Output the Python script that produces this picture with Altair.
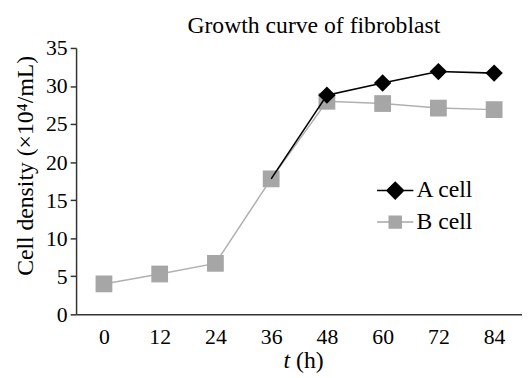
import altair as alt
import pandas as pd

hours = [0, 12, 24, 36, 48, 60, 72, 84]
a_cell = [None, None, None, 17.8, 28.8, 30.4, 31.9, 31.7]
b_cell = [4.0, 5.3, 6.7, 17.8, 28.0, 27.7, 27.1, 26.9]
series_names = ["A cell", "B cell"]
series_colors = ["#000000", "#a6a6a6"]
y_ticks = [0, 5, 10, 15, 20, 25, 30, 35]

rows = []
for name, vals in zip(series_names, [a_cell, b_cell]):
    for h, v in zip(hours, vals):
        if v is not None:
            rows.append({"t": h, "series": name, "v": v})
df = pd.DataFrame(rows)

FONT = "Liberation Serif"
AX = "#333333"

x_enc = alt.X(
    "t:O",
    scale=alt.Scale(type="point", padding=0.5),
    axis=alt.Axis(title=None, ticks=False, labelAngle=0, labelPadding=13,
                  labelFont=FONT, labelFontSize=22, labelColor="black",
                  domainColor=AX, domainWidth=1.5),
)
y_enc = alt.Y(
    "v:Q",
    scale=alt.Scale(domain=[0, 35], nice=False),
    axis=alt.Axis(values=y_ticks, grid=False, tickSize=6, tickColor=AX, tickWidth=1.5,
                  labelPadding=3, labelFont=FONT, labelFontSize=22, labelColor="black",
                  domainColor=AX, domainWidth=1.5,
                  title="Cell density (×10⁴/mL)", titleFont=FONT, titleFontSize=24,
                  titleFontWeight="normal", titleColor="black", titlePadding=8, titleY=119),
)

base = alt.Chart(df)

line_b = base.transform_filter(alt.datum.series == "B cell").mark_line(
    color="#b0b0b0", strokeWidth=1.5).encode(x=x_enc, y=y_enc)
pt_b = base.transform_filter(alt.datum.series == "B cell").mark_point(
    shape="square", filled=True, color=series_colors[1], size=289, opacity=1).encode(x=x_enc, y=y_enc)
line_a = base.transform_filter(alt.datum.series == "A cell").mark_line(
    color=series_colors[0], strokeWidth=1.6).encode(x=x_enc, y=y_enc)
pt_a = base.transform_filter((alt.datum.series == "A cell") & (alt.datum.t > 36)).mark_point(
    shape="diamond", filled=True, color=series_colors[0], size=310, opacity=1).encode(x=x_enc, y=y_enc)

legend_paths = [
    "M-1,0H1M0,-0.46L0.46,0L0,0.46L-0.46,0Z",
    "M-1,0H1M-0.33,-0.33H0.33V0.33H-0.33Z",
]
leg = alt.Legend(title=None, orient="none", legendX=304, legendY=125,
                 labelFont=FONT, labelFontSize=24, labelColor="black",
                 symbolSize=1350, symbolStrokeWidth=1.5, labelOffset=2, rowPadding=-6)
legend_layer = base.transform_filter("false").mark_point(filled=False, opacity=1, strokeWidth=1.5).encode(
    x=x_enc, y=y_enc,
    color=alt.Color("series:N", scale=alt.Scale(domain=series_names, range=series_colors), legend=leg),
    fill=alt.Fill("series:N", scale=alt.Scale(domain=series_names, range=series_colors), legend=leg),
    shape=alt.Shape("series:N", scale=alt.Scale(domain=series_names, range=legend_paths), legend=leg),
)

xt = pd.DataFrame({"label": ["t"]})
xt_t = alt.Chart(xt).mark_text(text="t", font=FONT, fontSize=24, fontStyle="italic",
                                align="right", baseline="alphabetic", color="black").encode(
    x=alt.value(217), y=alt.value(324))
xt_h = alt.Chart(xt).mark_text(text="(h)", font=FONT, fontSize=24,
                                align="left", baseline="alphabetic", color="black").encode(
    x=alt.value(223), y=alt.value(324))

chart = alt.layer(line_b, pt_b, line_a, pt_a, legend_layer, xt_t, xt_h).properties(
    width=452, height=270,
    title=alt.TitleParams("Growth curve of fibroblast", font=FONT, fontSize=24,
                          fontWeight="normal", color="black", anchor="middle",
                          frame="group", dx=15, dy=9, offset=8),
    autosize=alt.AutoSizeParams(type="none"),
    padding={"left": 69, "top": 38, "right": 0, "bottom": 62},
).configure(background="white").configure_view(stroke=None)

chart.save("out.html", embed_options={"renderer": "svg", "actions": False})
